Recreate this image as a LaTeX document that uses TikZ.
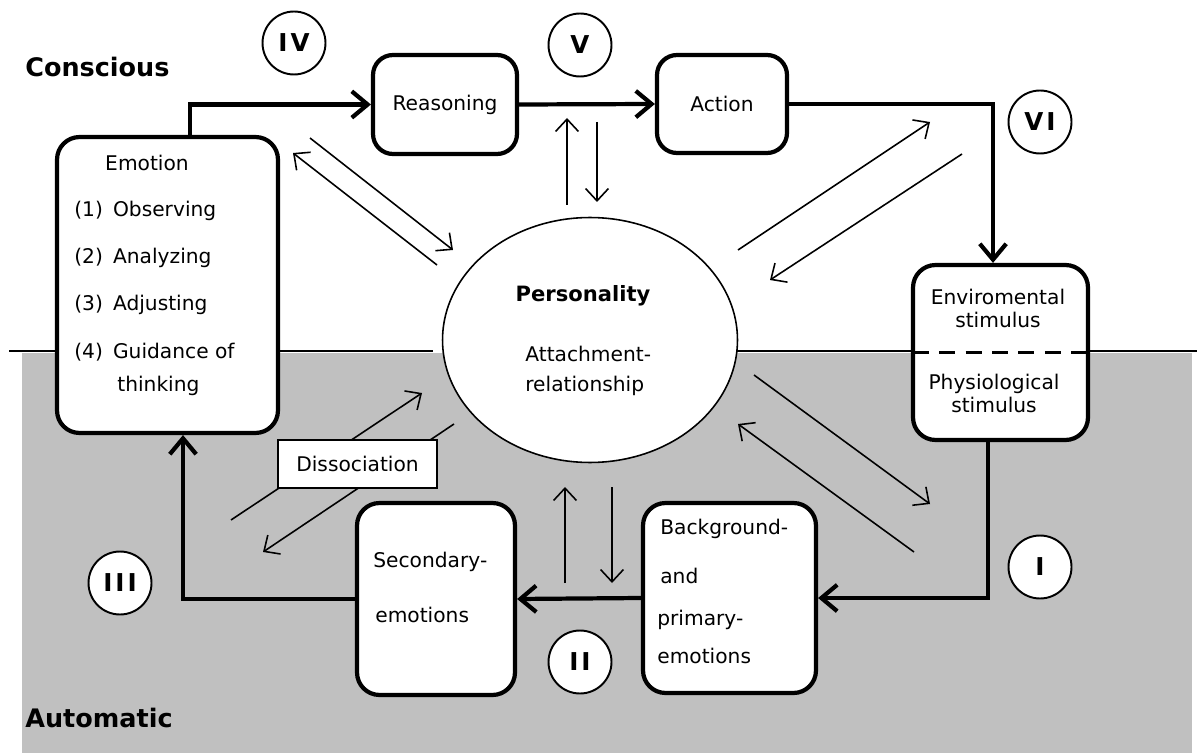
\documentclass[tikz,border=0pt]{standalone}
\usepackage{fontspec}
\setmainfont{DejaVu Sans}
\usetikzlibrary{arrows.meta,shapes.geometric}
\definecolor{automatic}{RGB}{192,192,192}

\begin{document}
\begin{tikzpicture}[x=0.02cm,y=-0.02cm,
  font=\fontsize{11.5}{13}\selectfont,
  stage/.style={draw,line width=2.4pt,rounded corners=0.45cm,fill=white,inner sep=0pt},
  marker/.style={draw,circle,line width=1.1pt,fill=white,minimum size=1.26cm,inner sep=0pt,
    font=\fontsize{14}{14}\selectfont\bfseries\addfontfeature{LetterSpace=12}},
  flow/.style={line width=2.4pt,-{Straight Barb[length=9pt,width=15pt]}},
  link/.style={line width=0.9pt,-{Straight Barb[length=7pt,width=13pt]}},
  lbl/.style={anchor=west,inner sep=0pt}]
	\useasboundingbox (0,0) rectangle (1197,753);
	\fill[automatic] (22,353) rectangle (1192,753);
	\draw[line width=1.1pt] (9,351) -- (433,351) (737,351) -- (1197,351);

	\node[stage,minimum width=4.42cm,minimum height=5.92cm] (emo) at (167.5,285) {};
	\node[stage,rounded corners=0.4cm,minimum width=2.88cm,minimum height=1.98cm] (rea) at (445,104.5) {Reasoning};
	\node[stage,rounded corners=0.4cm,minimum width=2.6cm,minimum height=1.96cm] (act) at (722,104) {Action};
	\node[stage,minimum width=3.5cm,minimum height=3.5cm] (env) at (1000.5,352.5) {};
	\node[stage,minimum width=3.46cm,minimum height=3.8cm] (bg) at (729.5,598) {};
	\node[stage,minimum width=3.16cm,minimum height=3.84cm] (sec) at (436,599) {};
	\node[draw,ellipse,line width=0.9pt,fill=white,minimum width=5.9cm,minimum height=4.9cm,inner sep=0pt] (pers) at (590,340) {};
	\draw[line width=1.5pt,dash pattern=on 9pt off 6pt,shorten <=1.2pt,shorten >=1.2pt] (env.west) -- (env.east);

	% main cycle
	\draw[flow] ([xshift=0.45cm]emo.north) |- (rea.west);
	\draw[flow] (rea.east) -- (act.west);
	\draw[flow] (act.east) -| ([xshift=-0.15cm]env.north);
	\draw[flow] ([xshift=-0.25cm]env.south) |- (bg.east);
	\draw[flow] (bg.west) -- (sec.east);
	\draw[flow] (sec.west) -| ([xshift=0.31cm]emo.south);

	% exchange with personality
	\foreach \xa/\ya/\xb/\yb in {437/265/293/153, 310/138/453/250, 567/205/567/118, 597/122/597/202,
	  738/250/930/122, 962/154/770/280, 754/375/930/504, 914/552/738/424,
	  565/583/565/487, 612/487/612/583, 231/520/422/393, 454/424/263/552}
		\draw[link] (\xa,\ya) -- (\xb,\yb);

	\node[draw,fill=white,line width=1.2pt,minimum width=3.18cm,minimum height=0.96cm,inner sep=0pt] (dis) at (357.5,464) {Dissociation};

	\node[marker] (m1) at (1040,567) {I};
	\node[marker] (m2) at (580,662) {II};
	\node[marker] (m3) at (120,583) {III};
	\node[marker] (m4) at (294,43) {IV};
	\node[marker] (m5) at (580,45) {V};
	\node[marker] (m6) at (1040,122) {VI};

	\node[lbl,font=\fontsize{14.5}{15}\selectfont\bfseries] (conscious) at (25,67) {Conscious};
	\node[lbl,font=\fontsize{14.5}{15}\selectfont\bfseries] (automatic) at (25,718) {Automatic};

	\node (emot) at (147,163) {Emotion};
	\foreach \y/\t [count=\i] in {211/Observing, 258/Analyzing, 305/Adjusting, 352/Guidance of}
		\node[lbl] (item\i) at (74,\y) {(\i)\enspace\t};
	\node[lbl] (item5) at (117,386) {thinking};

	\node[align=center] (envtop) at (998,308.5) {Enviromental\\stimulus};
	\node[align=center] (envbot) at (994,393.5) {Physiological\\stimulus};

	\node[font=\fontsize{12}{12}\selectfont\bfseries] (ptitle) at (583,296) {Personality};
	\node[lbl] (patt) at (525,354) {Attachment-};
	\node[lbl] (prel) at (525,386) {relationship};

	\node[lbl] (sec1) at (373,562) {Secondary-};
	\node[lbl] (sec2) at (375,615) {emotions};

	\node[lbl] (bg1) at (660,529) {Background-};
	\node[lbl] (bg2) at (660,576) {and};
	\node[lbl] (bg3) at (657,620) {primary-};
	\node[lbl] (bg4) at (657,656) {emotions};
\end{tikzpicture}
\end{document}
